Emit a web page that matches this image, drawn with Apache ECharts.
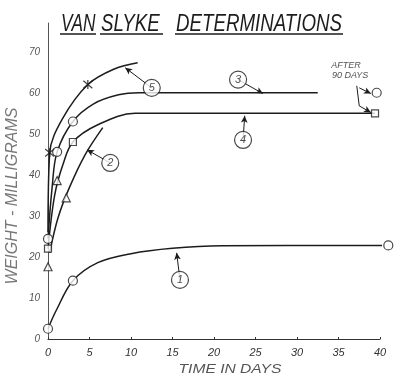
<!DOCTYPE html>
<html><head><meta charset="utf-8">
<script src="https://cdn.jsdelivr.net/npm/echarts@6/dist/echarts.min.js"></script>
<style>html,body{margin:0;padding:0;background:#fff}#c{width:398px;height:376px}</style>
</head><body><div id="c"></div>
<script>
// ---- data (days, milligrams) ----
const xTicks = [0,5,10,15,20,25,30,35,40];
const yTicks = [0,10,20,30,40,50,60,70];
const curve1 = [[0,2.5],[1,7],[3,14.2],[6,18.6],[10,20.8],[15,22.1],[21,22.7],[41,22.8]];
const curve2 = [[0.2,21],[1.2,29.5],[2.6,37],[4.5,45],[6.6,51.5]];
const curve3 = [[0,24.5],[0.5,37],[1.1,45.6],[3,53],[5.5,57.3],[8.5,59.5],[11,60],[32.5,60]];
const curve4 = [[0,22],[0.8,35],[1.8,42.5],[3,48],[6,52.2],[10.5,55],[39.4,55]];
const curve5 = [[0,26],[0.2,45.3],[1.7,53.5],[4.8,62],[8,65.8],[10.8,67.3]];
const circlePts = [[0,2.5],[3,14.2],[41,22.8],[1.1,45.6],[3,53],[0,24.4],[39.6,60]];
const squarePts = [[3,48],[39.4,55],[0,22]];
const trianglePts = [[0,17.6],[1.1,38.6],[2.2,34.4]];
const crossPts = [[0.2,45.4],[4.8,62]];
const labelNums = ['1','2','3','4','5'];
const labelPos = [[15.9,14.4],[7.5,42.9],[22.9,63.2],[23.5,48.5],[12.5,61.2]];
const arrowTip = [[15.5,21],[4.7,46.1],[25.9,59.8],[23.7,54.4],[9.3,66.1]];
const noteText = ['AFTER','90 DAYS'];
const notePos = [[35.9,66.6],[36.4,64.1]];
const noteLeader = [[[37.2,61.7],[37.5,56.8]]];
const noteArrows = [[[37.5,56.8],[38.9,55.2]],[[37.5,61.2],[38.9,59.8]]];

const ink = '#1c1c1c';
const FONT = '"Liberation Sans", sans-serif';
const chart = echarts.init(document.getElementById('c'), null, {renderer:'canvas'});

function lineSeries(d){
  return {type:'line', data:d, smooth:0.35, showSymbol:false, symbol:'none',
    lineStyle:{color:ink, width:1.5}, clip:false, z:2, silent:true};
}
function markers(d, symbol, size){
  return {type:'scatter', data:d, symbol:symbol, symbolSize:size, clip:false, z:4, silent:true,
    itemStyle:{color:'#fff', borderColor:ink, borderWidth:1.2}};
}
const arrowLines = labelPos.map((p,i)=>[{coord:p},{coord:arrowTip[i]}])
  .concat(noteArrows.map(a=>[{coord:a[0]},{coord:a[1]}]));
const plainLines = noteLeader.map(a=>[{coord:a[0], symbol:'none'},{coord:a[1], symbol:'none'}]);

const option = {
  animation:false,
  grid:{left:48, right:18, top:23, bottom:37},
  xAxis:{type:'value', min:0, max:40, interval:5,
    axisLine:{lineStyle:{color:'#333', width:1.2}},
    axisTick:{show:true, inside:true, length:2, lineStyle:{color:'#333'}},
    splitLine:{show:false},
    axisLabel:{color:'#333', fontSize:11, fontStyle:'italic', fontFamily:FONT, margin:8,
      formatter:v=>xTicks.includes(v)?String(v):''}},
  yAxis:{type:'value', min:0, max:77, interval:10,
    axisLine:{show:true, lineStyle:{color:'#555', width:1}},
    axisTick:{show:false},
    splitLine:{show:false},
    axisLabel:{color:'#555', fontSize:10, fontStyle:'italic', fontFamily:FONT, margin:8,
      formatter:v=>yTicks.includes(v)?String(v):''}},
  series:[
    lineSeries(curve1), lineSeries(curve2), lineSeries(curve3), lineSeries(curve4), lineSeries(curve5),
    markers(circlePts,'circle',9),
    markers(squarePts,'rect',7),
    markers(trianglePts,'triangle',8),
    {type:'scatter', data:crossPts, symbol:'path://M0,0L10,10M10,0L0,10M5,-1L5,11', symbolSize:9, clip:false, z:4, silent:true,
      itemStyle:{color:'none', borderColor:ink, borderWidth:1.3}},
    {type:'line', data:[], silent:true,
      markLine:{silent:true, z:1, symbol:['none','arrow'], symbolSize:[5,7], label:{show:false},
        lineStyle:{color:ink, width:1, type:'solid'}, data:arrowLines.concat(plainLines)}},
    {type:'scatter', data:labelPos.map((p,i)=>({value:p, name:labelNums[i]})), symbol:'circle', symbolSize:17, z:10, clip:false, silent:true,
      itemStyle:{color:'#fff', borderColor:ink, borderWidth:1.2},
      label:{show:true, position:'inside', formatter:p=>p.name, color:ink, fontSize:11, fontStyle:'italic', fontFamily:FONT}},
    {type:'scatter', data:notePos.map((p,i)=>({value:p, name:noteText[i]})), symbol:'rect', symbolSize:1, z:10, clip:false, silent:true,
      itemStyle:{color:'rgba(0,0,0,0)'},
      label:{show:true, position:'inside', formatter:p=>p.name, color:ink, fontSize:9, fontStyle:'italic', fontFamily:FONT}}
  ],
  graphic:[
    {type:'text', x:61, y:24, scaleX:0.72, style:{text:'VAN', font:'italic 24px '+FONT, fill:ink, verticalAlign:'middle'}},
    {type:'text', x:101, y:24, scaleX:0.78, style:{text:'SLYKE', font:'italic 24px '+FONT, fill:ink, verticalAlign:'middle'}},
    {type:'text', x:176, y:24, scaleX:0.78, style:{text:'DETERMINATIONS', font:'italic 24px '+FONT, fill:ink, verticalAlign:'middle'}},
    {type:'line', shape:{x1:60,y1:34,x2:96,y2:34}, style:{stroke:ink, lineWidth:1.3}},
    {type:'line', shape:{x1:100,y1:34,x2:163,y2:34}, style:{stroke:ink, lineWidth:1.3}},
    {type:'line', shape:{x1:175,y1:34,x2:343,y2:34}, style:{stroke:ink, lineWidth:1.3}},
    {type:'text', x:13, y:196, rotation:Math.PI/2, style:{text:'WEIGHT - MILLIGRAMS', font:'italic 16px '+FONT, fill:'#777', align:'center', verticalAlign:'middle'}},
    {type:'text', x:230, y:369, scaleX:1.2, style:{text:'TIME IN DAYS', font:'italic 13px '+FONT, fill:'#555', align:'center', verticalAlign:'middle'}}
  ]
};
chart.setOption(option);
</script></body></html>
